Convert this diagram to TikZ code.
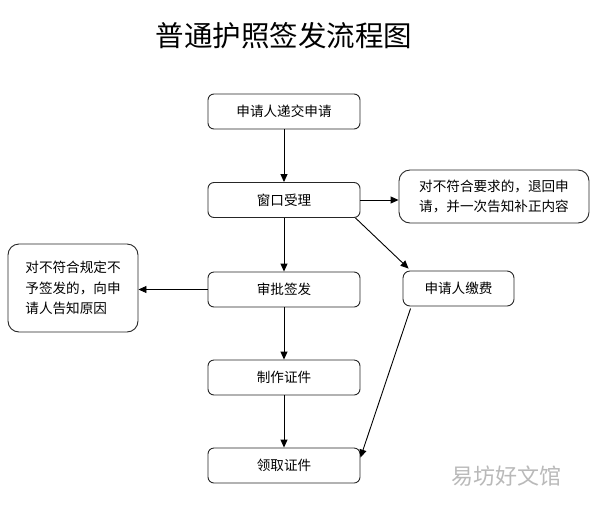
\documentclass[tikz,border=0pt]{standalone}
\usepackage{fontspec}
\setmainfont{Noto Sans CJK SC}
\usetikzlibrary{arrows.meta}
\tikzset{
  box/.style={draw=black!85, line width=0.9pt, rounded corners=6pt, minimum width=152pt, minimum height=35pt, inner sep=0pt, font=\fontsize{13.6}{20.5}\selectfont},
  note/.style={draw=black!85, line width=0.9pt, rounded corners=11pt, inner sep=0pt, font=\fontsize{13.6}{20.5}\selectfont},
  arr/.style={draw=black, line width=0.9pt, -{Triangle[length=8pt,width=7pt]}}
}
\begin{document}
\begin{tikzpicture}[x=1pt,y=-1pt]
\useasboundingbox (0,0) rectangle (593,509);
\node[font=\fontsize{28.5}{32}\selectfont] (title) at (284,36) {普通护照签发流程图};
\node[box] (b1) at (284,111.5) {申请人递交申请};
\node[box] (b2) at (284,200) {窗口受理};
\node[box] (b3) at (284,289.5) {审批签发};
\node[box] (b4) at (284,377.5) {制作证件};
\node[box] (b5) at (284,465.5) {领取证件};
\node[note, minimum width=190pt, minimum height=53pt, align=left] (r1) at (494,196.5) {对不符合要求的，退回申\\请，并一次告知补正内容};
\node[box, minimum width=111pt, minimum height=35pt, rounded corners=7pt] (fee) at (458.5,288.5) {申请人缴费};
\node[note, minimum width=130pt, minimum height=88pt, align=left] (l1) at (73,288) {对不符合规定不\\予签发的，向申\\请人告知原因};
\node[text=gray!55, font=\fontsize{22}{24}\selectfont] (wm) at (506,476) {易坊好文馆};
\draw[arr] (b1) -- (b2);
\draw[arr] (b2) -- (b3);
\draw[arr] (b3) -- (b4);
\draw[arr] (b4) -- (b5);
\draw[arr] (b2.east) -- (r1.west |- b2.east);
\draw[arr] (b3.west) -- (l1.east |- b3.west);
\draw[arr] ([xshift=-5pt]b2.south east) -- ([xshift=6pt,yshift=2pt]fee.north west);
\draw[arr] ([xshift=8pt,yshift=-2pt]fee.south west) -- ([yshift=-10pt]b5.north east);
\end{tikzpicture}
\end{document}
